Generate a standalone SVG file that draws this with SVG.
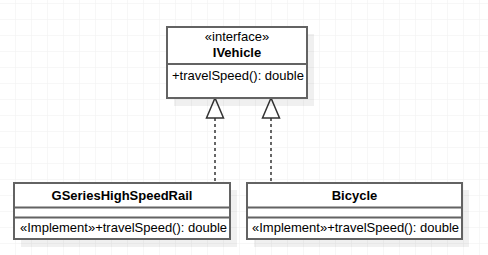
<svg xmlns="http://www.w3.org/2000/svg" width="488" height="255" viewBox="0 0 488 255">
  <defs>
    <pattern id="grid" x="15" y="3" width="16" height="16" patternUnits="userSpaceOnUse">
      <path d="M0 0H16M0 0V16" fill="none" stroke="#efefef" stroke-width="1"/>
    </pattern>
  </defs>
  <style>
    .shadow { fill: #000; opacity: 0.06; }
    .box { fill: #fff; stroke: #636363; stroke-width: 2; }
    .sep { stroke: #636363; stroke-width: 2; }
    .txt { font-family: "Liberation Sans", Arial, sans-serif; font-size: 13px; fill: #000; }
    .name { font-weight: bold; text-anchor: middle; }
    .mid { text-anchor: middle; }
    .dash { stroke: #666; stroke-width: 2; stroke-dasharray: 3 3; fill: none; }
    .head { fill: #fff; stroke: #333; stroke-width: 1.5; stroke-linejoin: miter; }
  </style>

  <rect width="488" height="255" fill="#fff"/>
  <rect width="488" height="255" fill="url(#grid)"/>

  <!-- realization connectors -->
  <g id="connectors">
    <line class="dash" x1="215" y1="118" x2="215" y2="183"/>
    <polygon class="head" points="215,98 206.5,118 223.5,118"/>
    <line class="dash" x1="271" y1="118" x2="271" y2="183"/>
    <polygon class="head" points="271,98 262.5,118 279.5,118"/>
  </g>

  <!-- interface -->
  <g id="IVehicle">
    <rect class="shadow" x="174" y="34" width="140" height="72"/>
    <rect class="box" x="167" y="27" width="140" height="71"/>
    <line class="sep" x1="167" y1="64" x2="307" y2="64"/>
    <text class="txt mid" x="237" y="41">«interface»</text>
    <text class="txt name" x="237" y="57">IVehicle</text>
    <text class="txt" x="172" y="80">+travelSpeed(): double</text>
  </g>

  <g id="GSeriesHighSpeedRail">
    <rect class="shadow" x="21" y="190" width="216" height="57"/>
    <rect class="box" x="14" y="183" width="216" height="56"/>
    <line class="sep" x1="14" y1="207.5" x2="230" y2="207.5"/>
    <line class="sep" x1="14" y1="217.5" x2="230" y2="217.5"/>
    <text class="txt name" x="122" y="200">GSeriesHighSpeedRail</text>
    <text class="txt" x="20" y="232">«Implement»+travelSpeed(): double</text>
  </g>

  <g id="Bicycle">
    <rect class="shadow" x="254" y="190" width="215" height="57"/>
    <rect class="box" x="247" y="183" width="215" height="56"/>
    <line class="sep" x1="247" y1="207.5" x2="462" y2="207.5"/>
    <line class="sep" x1="247" y1="217.5" x2="462" y2="217.5"/>
    <text class="txt name" x="354.5" y="200">Bicycle</text>
    <text class="txt" x="252" y="232">«Implement»+travelSpeed(): double</text>
  </g>
</svg>
